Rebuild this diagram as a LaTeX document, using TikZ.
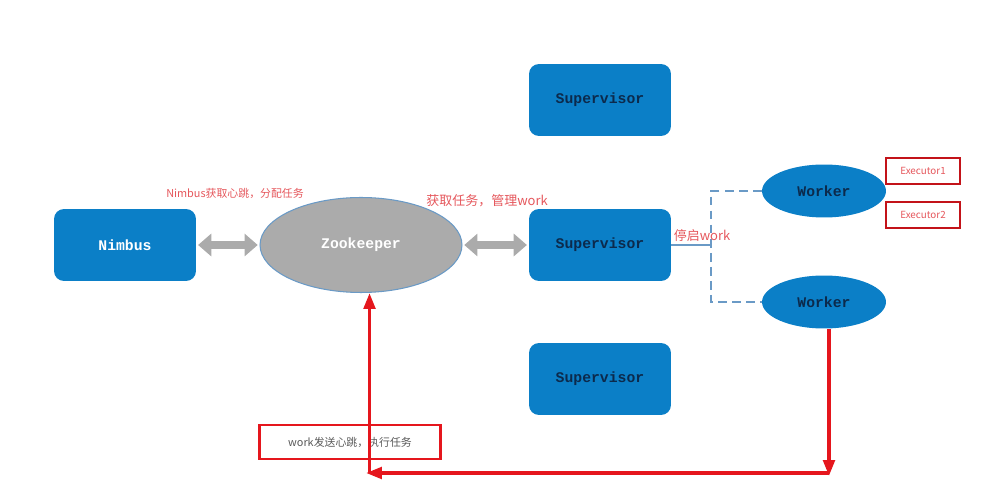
\documentclass[tikz,border=0pt]{standalone}
\usepackage{fontspec}
\newfontfamily\cjk{Noto Sans CJK SC}
\newfontfamily\boxfont{Liberation Mono}
\usetikzlibrary{shapes.geometric,arrows.meta}
\definecolor{stormblue}{HTML}{0B7FC7}
\definecolor{zkgray}{HTML}{ABABAB}
\definecolor{edgeblue}{HTML}{6A9AC6}
\definecolor{navytext}{HTML}{0C2A4C}
\definecolor{hbred}{HTML}{E5161D}
\definecolor{lblred}{HTML}{E5575C}

\begin{document}
\begin{tikzpicture}[x=0.02cm, y=-0.02cm,
    font=\boxfont\bfseries\fontsize{8.4}{9}\selectfont,
    box/.style={fill=stormblue, rounded corners=0.2cm, minimum width=2.84cm, minimum height=1.44cm, inner sep=0pt},
    oval/.style={ellipse, fill=stormblue, minimum width=2.48cm, minimum height=1.06cm, inner sep=0pt},
    exec/.style={draw=hbred!85!black, line width=1.1pt, minimum width=1.48cm, minimum height=0.52cm, inner sep=0pt, text=lblred, font=\cjk\fontsize{5.6}{6}\selectfont},
    lbl/.style={text=lblred, inner sep=0pt, font=\cjk\fontsize{7.4}{8}\selectfont},
    sync/.style={draw=zkgray, line width=4pt, {Triangle[length=7.5pt, width=12.5pt]}-{Triangle[length=7.5pt, width=12.5pt]}, shorten <=1pt, shorten >=1pt},
    link/.style={draw=edgeblue, line width=0.7pt},
    beat/.style={draw=hbred, line width=2pt, -{Triangle[length=9pt, width=6.5pt]}},
    >=Stealth]

    \useasboundingbox (0,0) rectangle (985,496);

    % master and coordination
    \node[box, text=white] (nimbus) at (125,245) {Nimbus};
    \node[ellipse, draw=edgeblue, line width=0.6pt, fill=zkgray, text=white, minimum width=4.04cm, minimum height=1.9cm, inner sep=0pt] (zk) at (361,245) {Zookeeper};
    \draw[sync] (nimbus.east) -- (zk.west);
    \node[lbl, font=\cjk\fontsize{6.2}{7}\selectfont] (nimbuslbl) at (235,194) {Nimbus获取心跳，分配任务};

    % supervisors
    \node[box, text=navytext] (sup1) at (600,100) {Supervisor};
    \node[box, text=navytext] (sup2) at (600,245) {Supervisor};
    \node[box, text=navytext] (sup3) at (600,379) {Supervisor};
    \draw[sync] (zk.east) -- (sup2.west);
    \node[lbl] (suplbl) at (487,201) {获取任务，管理work};

    % workers with executors
    \node[oval, text=navytext] (w1) at (824,191) {Worker};
    \node[oval, text=navytext] (w2) at (824,302) {Worker};
    \node[exec] (ex1) at (923,171) {Executor1};
    \node[exec] (ex2) at (923,215) {Executor2};
    \coordinate (fork) at (711,245);
    \draw[link] (sup2.east) -- (fork);
    \draw[link, dashed, dash pattern=on 5pt off 3pt] (w1.west) -| (fork) |- (w2.west);
    \node[lbl] (startlbl) at (702,236) {停启work};

    % heartbeat back to zookeeper
    \coordinate (br) at (829,476);
    \coordinate (bl) at (366,473);
    \node[draw=hbred, line width=1.6pt, minimum width=3.62cm, minimum height=0.68cm, inner sep=0pt, text=black!65, font=\cjk\fontsize{6.2}{7}\selectfont] (hbbox) at (350,442) {work发送心跳，执行任务};
    \draw[beat] (w2.south -| br) -- (br);
    \draw[beat] (br |- bl) -- (bl);
    \draw[beat] ([xshift=2pt]bl) -- ([xshift=2pt]bl |- zk.south);
\end{tikzpicture}
\end{document}
